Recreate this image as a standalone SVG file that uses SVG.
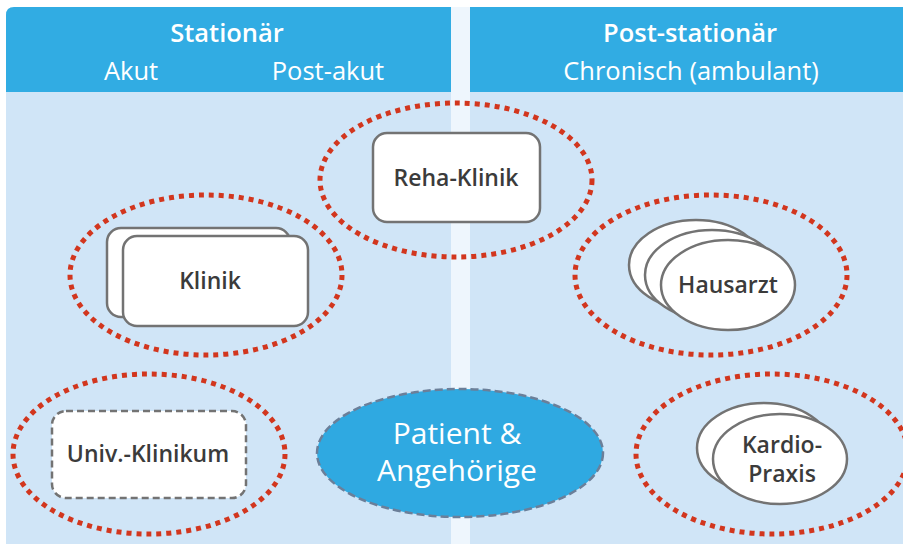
<svg xmlns="http://www.w3.org/2000/svg" width="903" height="544" viewBox="0 0 903 544">
  <style>
    .hdr { fill: #31ACE3; }
    .body { fill: #D0E5F7; }
    .htitle { font-family: "Open Sans", Lato, "Liberation Sans", sans-serif; font-weight: 600; font-size: 25.5px; fill: #ffffff; text-anchor: middle; }
    .hsub { font-family: "Open Sans", Lato, "Liberation Sans", sans-serif; font-size: 25.5px; fill: #ffffff; text-anchor: middle; }
    .zone { fill: none; stroke: #D2361E; stroke-width: 5; stroke-dasharray: 5 5; }
    .box { fill: #ffffff; stroke: #737373; stroke-width: 2.5; }
    .dbox { fill: #ffffff; stroke: #737373; stroke-width: 2.5; stroke-dasharray: 7 4; }
    .lbl { font-family: "Open Sans", Lato, "Liberation Sans", sans-serif; font-weight: 600; font-size: 23px; fill: #3b3b3b; text-anchor: middle; }
    .pat { fill: #2FA9E1; stroke: #6B7F99; stroke-width: 2.5; stroke-dasharray: 8 4; }
    .patl { font-family: "Open Sans", Lato, "Liberation Sans", sans-serif; font-size: 30px; fill: #ffffff; text-anchor: middle; }
  </style>
  <rect x="0" y="0" width="903" height="544" fill="#ffffff"/>
  <g id="panels">
    <rect x="451" y="7" width="19" height="537" fill="#EEF6FD"/>
    <rect class="body" x="6" y="80" width="445" height="464"/>
    <path class="hdr" d="M6 92 V15 Q6 7 14 7 H451 V92 Z"/>
    <rect class="body" x="470" y="80" width="433" height="464"/>
    <rect class="hdr" x="470" y="7" width="433" height="85"/>
    <text class="htitle" x="227" y="42">Stationär</text>
    <text class="hsub" x="131" y="80">Akut</text>
    <text class="hsub" x="328" y="80">Post-akut</text>
    <text class="htitle" x="690" y="42">Post-stationär</text>
    <text class="hsub" x="691" y="80">Chronisch (ambulant)</text>
  </g>
  <g id="reha-klinik">
    <ellipse class="zone" cx="456" cy="180" rx="136" ry="77"/>
    <rect class="box" x="373" y="133" width="167" height="89" rx="14"/>
    <text class="lbl" x="456" y="186">Reha-Klinik</text>
  </g>
  <g id="klinik">
    <ellipse class="zone" cx="206" cy="275" rx="136" ry="80"/>
    <rect class="box" x="107" y="228" width="183" height="89" rx="14"/>
    <rect class="box" x="123" y="236" width="185" height="90" rx="14"/>
    <text class="lbl" x="210" y="289">Klinik</text>
  </g>
  <g id="hausarzt">
    <ellipse class="zone" cx="711" cy="275" rx="136" ry="80"/>
    <ellipse class="box" cx="696" cy="265" rx="67" ry="45"/>
    <ellipse class="box" cx="712" cy="275" rx="67" ry="45"/>
    <ellipse class="box" cx="728" cy="285" rx="67" ry="45"/>
    <text class="lbl" x="728" y="293">Hausarzt</text>
  </g>
  <g id="univ-klinikum">
    <ellipse class="zone" cx="149" cy="454" rx="136" ry="80"/>
    <rect class="dbox" x="52" y="411" width="194" height="87" rx="14"/>
    <text class="lbl" x="148" y="462">Univ.-Klinikum</text>
  </g>
  <g id="kardio-praxis">
    <ellipse class="zone" cx="772" cy="454" rx="136" ry="80"/>
    <ellipse class="box" cx="764" cy="448" rx="67" ry="45"/>
    <ellipse class="box" cx="780" cy="459" rx="67" ry="45"/>
    <text class="lbl" x="782" y="453">Kardio-</text>
    <text class="lbl" x="782" y="482">Praxis</text>
  </g>
  <g id="patient">
    <ellipse class="pat" cx="460" cy="453" rx="143" ry="64"/>
    <text class="patl" x="457" y="444">Patient &amp;</text>
    <text class="patl" x="457" y="481">Angehörige</text>
  </g>
  <g id="connectors"/>
</svg>
